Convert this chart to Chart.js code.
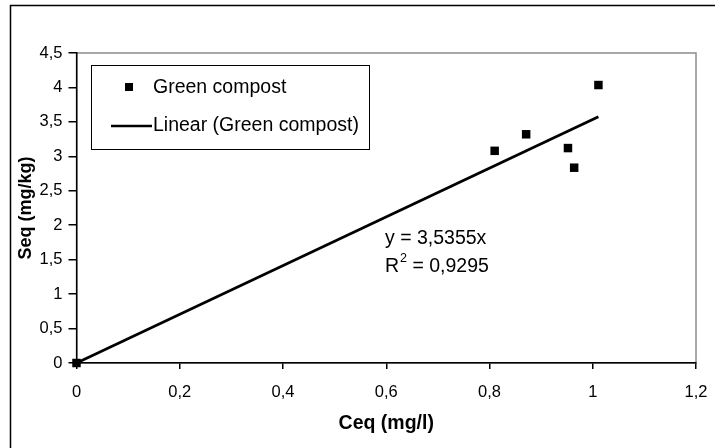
<!DOCTYPE html>
<html>
<head>
<meta charset="utf-8">
<title>Green compost sorption</title>
<script src="https://cdn.jsdelivr.net/npm/chart.js@4/dist/chart.umd.min.js"></script>
<style>
  html, body { margin: 0; padding: 0; background: #fff; }
  #wrap { position: relative; width: 715px; height: 448px; }
</style>
</head>
<body>
<div id="wrap"><canvas id="chart" width="715" height="448"></canvas></div>
<script>
// measured points, Ceq (mg/l) vs Seq (mg/kg)
const ceq = [0, 0.81, 0.871, 0.952, 0.964, 1.011];
const seq = [0, 3.08, 3.32, 3.12, 2.835, 4.035];

// linear trend through the origin
const slope = 3.5355;
const r2 = '0,9295';
const trendX = [0, Math.max(...ceq)];

const xTicks = [0, 0.2, 0.4, 0.6, 0.8, 1, 1.2];
const yTicks = [0, 0.5, 1, 1.5, 2, 2.5, 3, 3.5, 4, 4.5];

const seriesName = 'Green compost';
const trendName = 'Linear (Green compost)';

const FONT = '"Liberation Sans", Arial, sans-serif';
const TEXT = '19.5px ' + FONT;

function comma(v) {
    return (Math.round(v * 10) / 10).toString().replace('.', ',');
}

function comma4(v) {
    return v.toString().replace('.', ',');
}

// gray frame round the plot, outer frame and the boxed legend
const decor = {
    id: 'decor',
    beforeDraw(chart) {
        const { ctx, chartArea: a } = chart;
        ctx.save();
        ctx.strokeStyle = '#000';
        ctx.lineWidth = 1.5;
        ctx.beginPath();
        ctx.moveTo(10.5, 448);
        ctx.lineTo(10.5, 5.5);
        ctx.lineTo(715, 5.5);
        ctx.stroke();
        ctx.strokeStyle = '#8c8c8c';
        ctx.lineWidth = 1.5;
        ctx.strokeRect(a.left, a.top, a.right - a.left, a.bottom - a.top);
        ctx.restore();
    },
    afterDraw(chart) {
        const { ctx } = chart;
        const ds = chart.data.datasets;
        ctx.save();
        // legend box
        ctx.fillStyle = '#fff';
        ctx.fillRect(91, 65, 278, 84);
        ctx.strokeStyle = '#000';
        ctx.lineWidth = 1;
        ctx.strokeRect(91.5, 65.5, 278, 84);
        ctx.fillStyle = '#000';
        ctx.fillRect(125, 83, 8, 8);
        ctx.lineWidth = 2.5;
        ctx.beginPath();
        ctx.moveTo(111, 126);
        ctx.lineTo(152, 126);
        ctx.stroke();
        ctx.font = TEXT;
        ctx.textBaseline = 'alphabetic';
        ctx.fillText(ds[0].label, 153, 92.5);
        ctx.fillText(ds[1].label, 153, 131);

        // equation of the trend line
        ctx.fillText('y = ' + comma4(slope) + 'x', 385, 244);
        ctx.fillText('R', 385, 272);
        const rw = ctx.measureText('R').width;
        ctx.font = '12.5px ' + FONT;
        ctx.fillText('2', 385 + rw + 1, 262);
        const sw = ctx.measureText('2').width;
        ctx.font = TEXT;
        ctx.fillText(' = ' + r2, 385 + rw + sw + 1, 272);
        ctx.restore();
    }
};

new Chart(document.getElementById('chart'), {
    type: 'scatter',
    data: {
        datasets: [{
            label: seriesName,
            data: ceq.map((x, i) => ({ x: x, y: seq[i] })),
            pointStyle: 'rect',
            pointRadius: 6,
            pointHoverRadius: 6,
            borderWidth: 0,
            backgroundColor: '#000',
            borderColor: '#000',
            clip: false
        }, {
            label: trendName,
            type: 'line',
            data: trendX.map(x => ({ x: x, y: slope * x })),
            borderColor: '#000',
            borderWidth: 2.8,
            pointRadius: 0,
            fill: false,
            tension: 0
        }]
    },
    options: {
        responsive: false,
        animation: false,
        events: [],
        layout: { padding: { top: 53, right: 19, left: 0, bottom: 0 } },
        plugins: {
            legend: { display: false },
            tooltip: { enabled: false }
        },
        scales: {
            x: {
                type: 'linear',
                min: 0,
                max: 1.2,
                afterBuildTicks: s => { s.ticks = xTicks.map(v => ({ value: v })); },
                afterFit: s => {
                    s.height = 448 - 363;
                    s.paddingLeft = 0;
                    s.paddingRight = 0;
                },
                ticks: {
                    color: '#000',
                    font: { family: FONT, size: 16.5 },
                    padding: 14,
                    maxRotation: 0,
                    callback: v => comma(v)
                },
                grid: { display: true, drawOnChartArea: false, drawTicks: true, tickLength: 6, color: '#000', lineWidth: 1.5 },
                border: { display: true, color: '#000', width: 1.5 },
                title: {
                    display: true,
                    text: 'Ceq (mg/l)',
                    color: '#000',
                    font: { family: FONT, size: 19.5, weight: 'bold' },
                    padding: { top: 0, bottom: 13 }
                }
            },
            y: {
                type: 'linear',
                min: 0,
                max: 4.5,
                afterBuildTicks: s => { s.ticks = yTicks.map(v => ({ value: v })); },
                afterFit: s => {
                    s.width = 76.5;
                    s.paddingTop = 0;
                    s.paddingBottom = 0;
                },
                ticks: {
                    color: '#000',
                    font: { family: FONT, size: 16.5 },
                    padding: 6,
                    callback: v => comma(v)
                },
                grid: { display: true, drawOnChartArea: false, drawTicks: true, tickLength: 8, color: '#000', lineWidth: 1.5 },
                border: { display: true, color: '#000', width: 1.5 },
                title: {
                    display: true,
                    text: 'Seq (mg/kg)',
                    color: '#000',
                    font: { family: FONT, size: 18, weight: 'bold' },
                    padding: { top: 15, bottom: 0 }
                }
            }
        }
    },
    plugins: [decor]
});
</script>
</body>
</html>
